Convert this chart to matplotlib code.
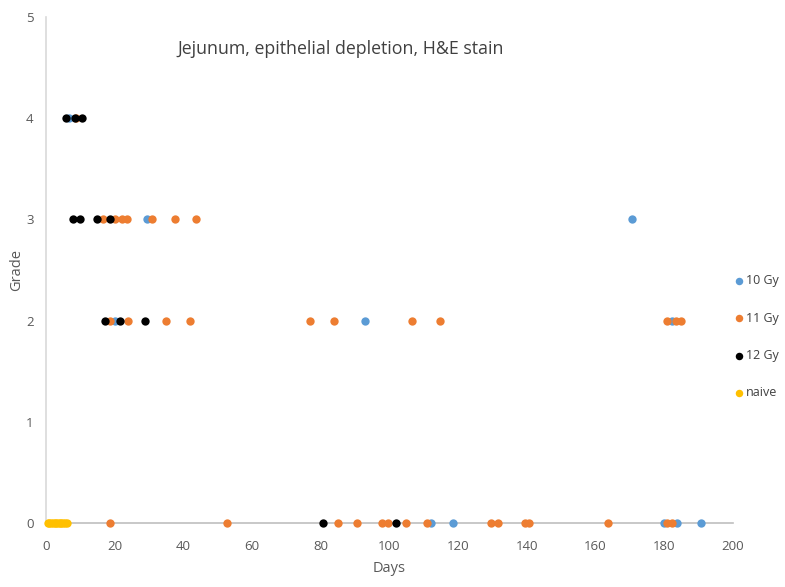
import matplotlib
matplotlib.use("Agg")
import matplotlib.pyplot as plt

# ---- data ----
series_names = ["10 Gy", "11 Gy", "12 Gy", "naive"]
series_colors = ["#5B9BD5", "#ED7D31", "#000000", "#FFC000"]

days_10 = [6.8, 29.3, 170.6, 20.1, 92.9, 182.2, 112.0, 118.6, 179.9, 183.6, 190.7]
grade_10 = [4, 3, 3, 2, 2, 2, 0, 0, 0, 0, 0]

days_11 = [8.7,
           16.7, 20.1, 22.0, 23.7, 30.8, 37.6, 43.7,
           18.6, 24.0, 34.9, 41.9, 76.9, 83.8, 106.6, 114.7, 180.7, 183.4, 184.9,
           18.6, 52.8, 84.9, 90.7, 97.7, 99.7, 104.8, 110.8, 129.5, 131.7, 139.5, 140.5,
           163.7, 180.7, 182.3]
grade_11 = [4,
            3, 3, 3, 3, 3, 3, 3,
            2, 2, 2, 2, 2, 2, 2, 2, 2, 2, 2,
            0, 0, 0, 0, 0, 0, 0, 0, 0, 0, 0, 0,
            0, 0, 0]

days_12 = [5.8, 8.4, 10.5, 7.9, 9.9, 14.8, 18.6, 17.2, 21.5, 28.8, 80.7, 101.9]
grade_12 = [4, 4, 4, 3, 3, 3, 3, 2, 2, 2, 0, 0]

days_naive = [0.5, 1.0, 1.5, 2.0, 2.5, 3.0, 3.5, 4.0, 4.5, 5.0, 5.5, 6.0]
grade_naive = [0] * len(days_naive)

x_ticks = [0, 20, 40, 60, 80, 100, 120, 140, 160, 180, 200]
y_ticks = [0, 1, 2, 3, 4, 5]

title = "Jejunum, epithelial depletion, H&E stain"

# ---- plot ----
plt.rcParams['font.family'] = ['Open Sans', 'DejaVu Sans']

fig = plt.figure(figsize=(7.85, 5.87), dpi=100)
ax = fig.add_axes([0.0586, 0.109, 0.875, 0.862])

all_days = [days_10, days_11, days_12, days_naive]
all_grades = [grade_10, grade_11, grade_12, grade_naive]
for d, g, c, n in zip(all_days, all_grades, series_colors, series_names):
    ax.scatter(d, g, s=36, color=c, label=n, zorder=3, linewidths=0, clip_on=False)

ax.set_xlim(0, 200)
ax.set_ylim(0, 5)
ax.set_xticks(x_ticks)
ax.set_yticks(y_ticks)
ax.tick_params(length=0, labelsize=9.5, colors="#595959")
ax.tick_params(axis="x", pad=12)
ax.tick_params(axis="y", pad=9)
for s in ["top", "right"]:
    ax.spines[s].set_visible(False)
ax.spines["left"].set_color("#D9D9D9")
ax.spines["bottom"].set_color("#BFBFBF")
ax.spines["left"].set_linewidth(1.2)
ax.spines["bottom"].set_linewidth(1.2)

ax.set_xlabel("Days", fontsize=10.5, color="#595959", labelpad=6)
ax.set_ylabel("Grade", fontsize=10.5, color="#595959", labelpad=1)

fig.text(0.434, 0.916, title, fontsize=12.8, color="#404040", ha="center", va="center")

leg = ax.legend(loc="upper left", bbox_to_anchor=(0.929, 0.541),
                bbox_transform=fig.transFigure, frameon=False,
                fontsize=9, labelspacing=1.94, handletextpad=0.15,
                borderaxespad=0, handlelength=0.8, markerscale=0.9)
for t in leg.get_texts():
    t.set_color("#404040")

fig.savefig("out.png", dpi=100)
